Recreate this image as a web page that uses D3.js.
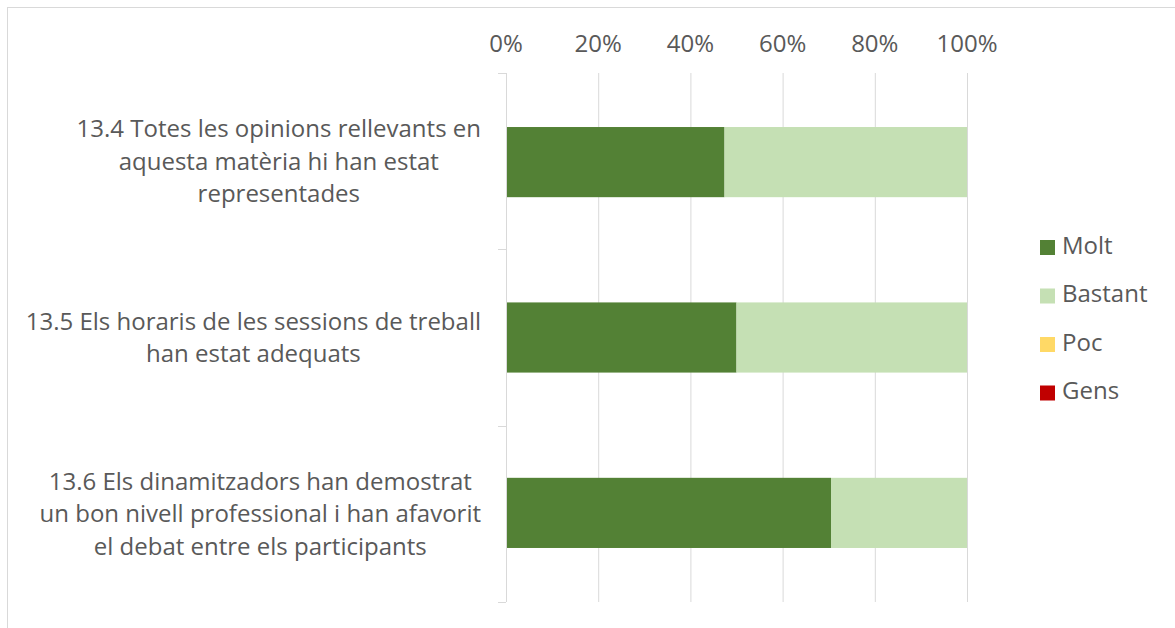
<!DOCTYPE html>
<html><head><meta charset="utf-8">
<script src="https://cdn.jsdelivr.net/npm/d3@7"></script>
<style>body{margin:0;background:#fff;} text{font-family:"Open Sans",sans-serif;fill:#595959;}</style>
</head><body>
<svg id="c" width="1175" height="628"></svg>
<script>
const categories = [
  ["13.4 Totes les opinions rellevants en","aquesta matèria hi han estat","representades"],
  ["13.5 Els horaris de les sessions de treball","han estat adequats"],
  ["13.6 Els dinamitzadors han demostrat","un bon nivell professional i han afavorit","el debat entre els participants"]
];
const seriesNames = ["Molt","Bastant","Poc","Gens"];
const seriesColors = ["#538135","#C5E0B4","#FFD966","#C00000"];
const molt = [47.4, 50.0, 70.5];
const bastant = [52.6, 50.0, 29.5];
const poc = [0, 0, 0];
const gens = [0, 0, 0];
const tickValues = [0,20,40,60,80,100];

const FS = "24px";
const svg = d3.select("#c");
svg.append("rect").attr("x",7.5).attr("y",7.5).attr("width",1200).attr("height",700)
  .attr("fill","none").attr("stroke","#d9d9d9").attr("stroke-width",1);

const x = d3.scaleLinear().domain([0,100]).range([506,967]);
const y = d3.scaleBand().domain(d3.range(categories.length)).range([73,602]).paddingInner(0.6).paddingOuter(0.308);
const yb = d3.scaleBand().domain(d3.range(categories.length)).range([73,602]);

// gridlines
svg.append("g").selectAll("line").data(tickValues.slice(1)).join("line")
  .attr("x1",d=>x(d)+0.5).attr("x2",d=>x(d)+0.5).attr("y1",73).attr("y2",602)
  .attr("stroke","#d9d9d9").attr("stroke-width",1);

// x tick labels
svg.append("g").selectAll("text").data(tickValues).join("text")
  .attr("x",d=>x(d)).attr("y",52).attr("text-anchor","middle")
  .style("font-size",FS).text(d=>d+"%");

// stacked bars
const data = categories.map((c,i)=>({i, vals:[molt[i],bastant[i],poc[i],gens[i]]}));
const stack = d3.stack().keys([0,1,2,3]).value((d,k)=>d.vals[k]);
const layers = stack(data);
svg.append("g").selectAll("g").data(layers).join("g").attr("fill",(d,k)=>seriesColors[k])
  .selectAll("rect").data(d=>d).join("rect")
  .attr("x",d=>x(d[0])).attr("width",d=>x(d[1])-x(d[0]))
  .attr("y",d=>y(d.data.i)).attr("height",y.bandwidth());

// category axis line and ticks
svg.append("line").attr("x1",506.5).attr("x2",506.5).attr("y1",73).attr("y2",602)
  .attr("stroke","#d9d9d9");
const bticks = d3.range(categories.length+1).map(i=> i<categories.length ? yb(i) : 602);
svg.append("g").selectAll("line").data(bticks).join("line")
  .attr("x1",498).attr("x2",506).attr("y1",d=>Math.round(d)+0.5).attr("y2",d=>Math.round(d)+0.5)
  .attr("stroke","#d9d9d9");

// category labels
const lh = 32.5;
categories.forEach((lines,i)=>{
  const g = svg.append("g");
  const cy = yb(i)+yb.bandwidth()/2;
  const ts = lines.map((l,j)=>g.append("text").style("font-size",FS)
    .attr("y", cy + (j-(lines.length-1)/2)*lh + 8.5).text(l));
  const w = d3.max(ts,t=>t.node().getComputedTextLength());
  const cx = 481 - w/2;
  ts.forEach(t=>t.attr("x",cx).attr("text-anchor","middle"));
});

// legend
const lg = svg.append("g").selectAll("g").data(seriesNames).join("g")
  .attr("transform",(d,k)=>`translate(1040,${240+k*48.5})`);
lg.append("rect").attr("width",15).attr("height",15).attr("fill",(d,k)=>seriesColors[k]);
lg.append("text").attr("x",22).attr("y",13.5).style("font-size",FS).text(d=>d);
</script>
</body></html>
